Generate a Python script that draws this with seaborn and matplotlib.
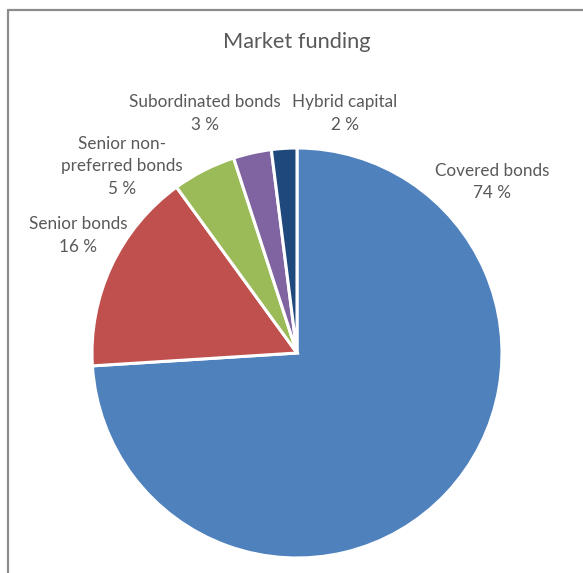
import matplotlib
matplotlib.use("Agg")
import matplotlib.pyplot as plt
import seaborn as sns

# Market funding composition (per cent)
categories = ["Covered bonds", "Senior bonds", "Senior non-\npreferred bonds",
              "Subordinated bonds", "Hybrid capital"]
shares = [74, 16, 5, 3, 2]
colors = ["#4F81BD", "#C0504D", "#9BBB59", "#8064A2", "#1F497D"]

# Label centres, in units of the pie radius relative to its centre
label_x = [0.951, -1.068, -0.854, -0.449, 0.234]
label_y = [0.834, 0.573, 0.912, 1.168, 1.168]

sns.set_theme(style="white")
plt.rcParams["font.family"] = ["Lato", "DejaVu Sans"]
text_color = "#595959"

W, H, DPI = 583, 573, 100
fig = plt.figure(figsize=(W / DPI, H / DPI), dpi=DPI)
fig.patch.set_facecolor("white")

cx, cy, r = 297, 353, 205
ax = fig.add_axes([(cx - r) / W, (H - cy - r) / H, 2 * r / W, 2 * r / H])

wedges, _ = ax.pie(shares, colors=colors, startangle=90, counterclock=False,
                   radius=1.0, wedgeprops=dict(edgecolor="white", linewidth=2.2))
ax.set_xlim(-1, 1)
ax.set_ylim(-1, 1)
ax.set_aspect("equal")
ax.axis("off")

for name, val, x, y in zip(categories, shares, label_x, label_y):
    ax.text(x, y, f"{name}\n{val} %", ha="center", va="center", fontsize=12.3,
            color=text_color, linespacing=1.5, clip_on=False)

fig.text(cx / W, 1 - 42 / H, "Market funding", ha="center", va="center",
         fontsize=15.7, color=text_color)

# Chart frame (left and top edges)
frame = dict(color="#8C8C8C", linewidth=1.6, transform=fig.transFigure)
fig.add_artist(plt.Line2D([7.5 / W, 7.5 / W], [0, 1 - 9.5 / H], **frame))
fig.add_artist(plt.Line2D([7.5 / W, 1], [1 - 9.5 / H, 1 - 9.5 / H], **frame))

fig.savefig("out.png", dpi=DPI, facecolor="white")
